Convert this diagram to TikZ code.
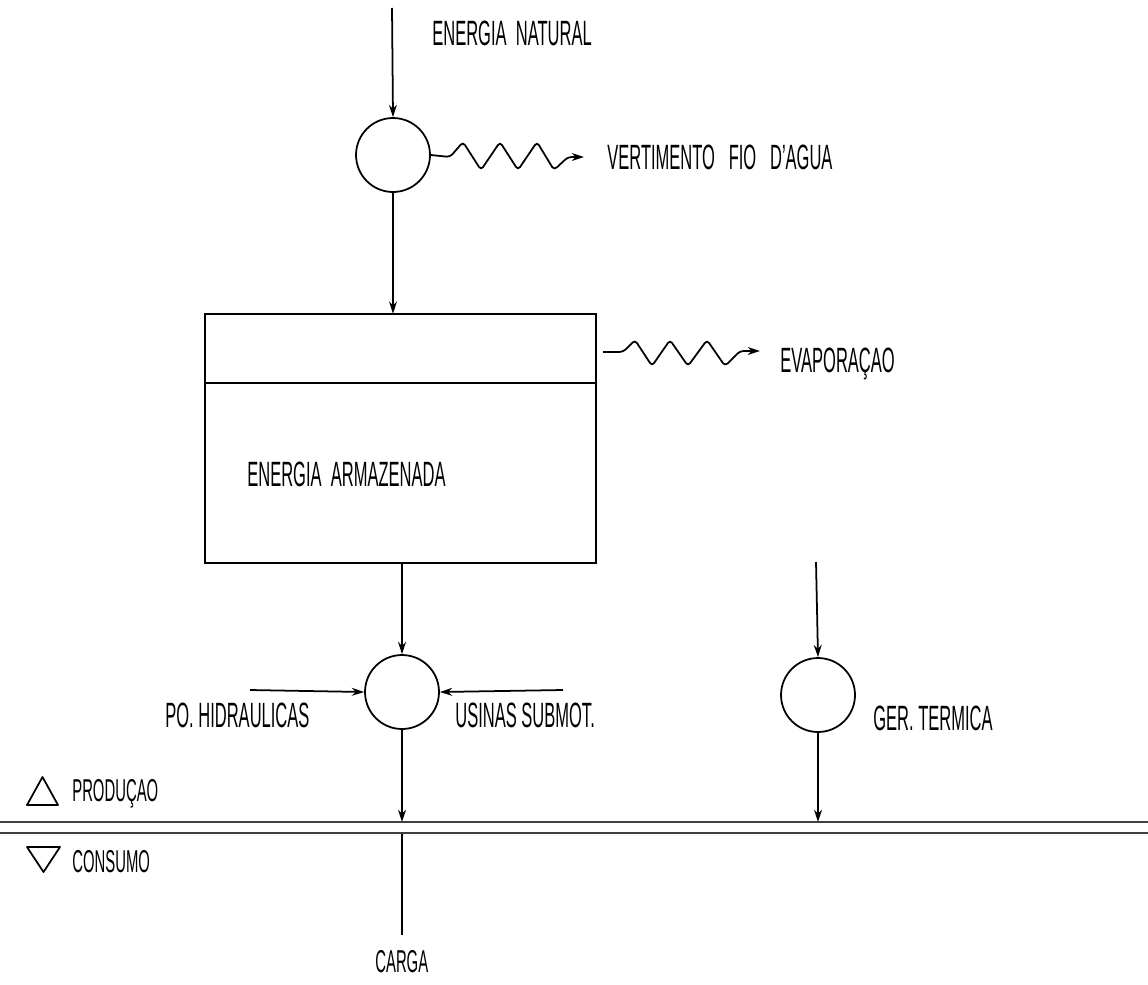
\documentclass[tikz,border=0pt]{standalone}
\usepackage{fontspec}
\usepackage{graphicx}
\setmainfont{Liberation Sans}
\usetikzlibrary{arrows.meta}
\newcommand\nar[1]{\scalebox{0.47}[1]{#1}}
\tikzset{
  flow/.style={line width=1pt, -{Stealth[open,length=7pt,width=4.5pt]}},
  plain/.style={line width=1pt},
  junction/.style={circle, draw, line width=1pt, minimum size=1.48cm, inner sep=0pt},
  lbl/.style={anchor=west, inner sep=0pt, font=\fontsize{20}{24}\selectfont},
  slbl/.style={anchor=west, inner sep=0pt, font=\fontsize{18}{22}\selectfont},
  wave/.style={line width=1pt, rounded corners=2pt, -{Stealth[open,length=7pt,width=4.5pt]}},
  bus/.style={line width=1.4pt, black!75}
}
\begin{document}
\begin{tikzpicture}[x=0.02cm, y=-0.02cm]
\useasboundingbox (0,0) rectangle (1148,984);
% nodes
\coordinate (src) at (392,8);
\node[junction] (c1) at (393,155) {};
\draw[line width=1pt] (205,314) rectangle (596,563);
\node[inner sep=0pt, minimum width=7.82cm, minimum height=4.98cm] (box) at (400.5,438.5) {};
\draw[line width=1pt] (205,383) -- (596,383);
\node[junction] (c2) at (402,692) {};
\node[junction] (c3) at (818,695) {};
\coordinate (srcT) at (816,562);
\coordinate (hL) at (250,690);
\coordinate (hR) at (563,690);
\coordinate (busL1) at (0,822);
\coordinate (busR1) at (1148,822);
\coordinate (busL2) at (0,833);
\coordinate (busR2) at (1148,833);
\coordinate (load) at (402,935);
% labels
\node[lbl] (tNat) at (432,33) {\nar{ENERGIA\ \ NATURAL}};
\node[lbl] (tVert) at (607,157) {\nar{VERTIMENTO\ \ \ FIO\ \ \ D'AGUA}};
\node[lbl] (tEvap) at (780,364) {\nar{EVAPORAÇAO}};
\node[lbl] (tArm) at (247,474) {\nar{ENERGIA\ \ ARMAZENADA}};
\node[lbl] (tPO) at (165,715) {\nar{PO. HIDRAULICAS}};
\node[lbl] (tUS) at (455,715) {\nar{USINAS SUBMOT.}};
\node[lbl] (tGer) at (873,718) {\nar{GER. TERMICA}};
\node[slbl] (tProd) at (72,794) {\nar{PRODUÇAO}};
\node[slbl] (tCons) at (72,862) {\nar{CONSUMO}};
\node[slbl] (tCarga) at (375,962) {\nar{CARGA}};
% connectors
\draw[flow] (src) -- (c1.north);
\draw[flow] (c1.south) -- (c1.south |- box.north);
\draw[wave] (c1.east) -- (450,157) -- (463,142) -- (481,170) -- (500,142) -- (518,170) -- (537,142) -- (554,170) -- (568,157) -- (584,157);
\draw[wave] (603,352) -- (623,352) -- (635,340) -- (652,366) -- (670,340) -- (688,366) -- (707,340) -- (725,366) -- (740,351) -- (760,351);
\draw[flow] (c2.north |- box.south) -- (c2.north);
\draw[flow] (hL) -- (c2.west);
\draw[flow] (hR) -- (c2.east);
\draw[flow] (c2.south) -- (c2.south |- busL1);
\draw[plain] (c2.south |- busL2) -- (load);
\draw[flow] (srcT) -- (c3.north);
\draw[flow] (c3.south) -- (c3.south |- busL1);
\draw[bus] (busL1) -- (busR1);
\draw[bus] (busL2) -- (busR2);
% legend triangles
\draw[line width=1pt, line join=round] (27,805) -- (58,805) -- (42.5,777) -- cycle;
\draw[line width=1pt, line join=round] (27,847) -- (60,847) -- (43.5,872) -- cycle;
\end{tikzpicture}
\end{document}
